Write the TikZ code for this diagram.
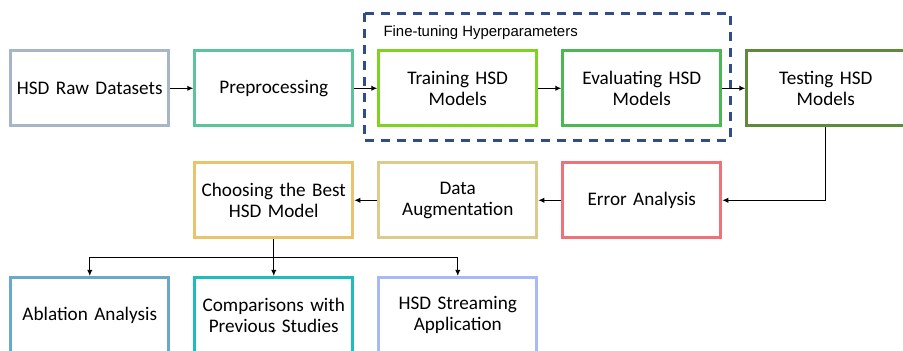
\documentclass[tikz,border=0pt]{standalone}
\usepackage{fontspec}
\setmainfont{Carlito}
\newfontfamily\labelfont{Liberation Sans}
\usetikzlibrary{arrows.meta,positioning,calc}
\definecolor{rawcol}{HTML}{A7B5C6}
\definecolor{prepcol}{HTML}{5BC49A}
\definecolor{traincol}{HTML}{7ED321}
\definecolor{evalcol}{HTML}{4CB852}
\definecolor{testcol}{HTML}{5E8A3C}
\definecolor{errcol}{HTML}{F07178}
\definecolor{augcol}{HTML}{DDCB8E}
\definecolor{bestcol}{HTML}{EAC46C}
\definecolor{ablcol}{HTML}{6AA8C8}
\definecolor{cmpcol}{HTML}{1EBDBD}
\definecolor{streamcol}{HTML}{A9B9F5}
\definecolor{tunecol}{HTML}{2E4D8A}

\begin{document}
\begin{tikzpicture}
  [x=0.75pt,y=-0.75pt,
  stage/.style={rectangle, draw=#1, line width=2.25pt, fill=white,
    text width=110pt, inner sep=2pt, align=center,
    minimum width=118.5pt, minimum height=56.25pt,
    font=\fontsize{14.4}{15.75}\selectfont},
  line/.style={draw, line width=0.8pt, -{Latex[length=4.5pt,width=4pt]}},
  tuning/.style={draw=tunecol, line width=2.25pt,
    dash pattern=on 6.75pt off 5.25pt}]
  \useasboundingbox (0,0) rectangle (903,350);
  \matrix [anchor=north west, inner sep=0pt, column sep=17.25pt,
    row sep=25.5pt] at (9,49) {
    % row 1
    \node [stage=rawcol] (raw) {HSD Raw Datasets}; &
    \node [stage=prepcol] (prep) {Preprocessing}; &
    \node [stage=traincol] (train) {Training HSD\\Models}; &
    \node [stage=evalcol] (eval) {Evaluating HSD\\Models}; &
    \node [stage=testcol] (test) {Testing HSD\\Models}; \\
    % row 2
    & \node [stage=bestcol] (best) {Choosing the Best\\HSD Model}; &
    \node [stage=augcol] (aug) {Data\\Augmentation}; &
    \node [stage=errcol] (err) {Error Analysis}; & \\[2pt]
    % row 3
    \node [stage=ablcol] (abl) {Ablation Analysis}; &
    \node [stage=cmpcol] (cmp) {Comparisons with\\Previous Studies}; &
    \node [stage=streamcol] (stream) {HSD Streaming\\Application}; & & \\
  };
  % fine-tuning group
  \coordinate (tune-nw) at ([shift={(-13,-36)}]train.north west);
  \coordinate (tune-se) at ([shift={(8,13)}]eval.south east);
  \path [tuning] (tune-nw) rectangle (tune-se);
  \node [anchor=west, inner sep=0pt, font=\labelfont\fontsize{11.2}{13}\selectfont]
    (tune) at ([shift={(19,19)}]tune-nw) {Fine-tuning Hyperparameters};
  \coordinate (split) at ($(best.south)!0.5!(cmp.north)$);
  \begin{scope}[every path/.style=line]
    \path (raw) -- (prep); \path (prep) -- (train);
    \path (train) -- (eval); \path (eval) -- (test);
    \path (test) |- (err); \path (err) -- (aug);
    \path (aug) -- (best); \path (best) -- (cmp);
    \path (split) -| (abl); \path (split) -| (stream);
  \end{scope}
\end{tikzpicture}
\end{document}
